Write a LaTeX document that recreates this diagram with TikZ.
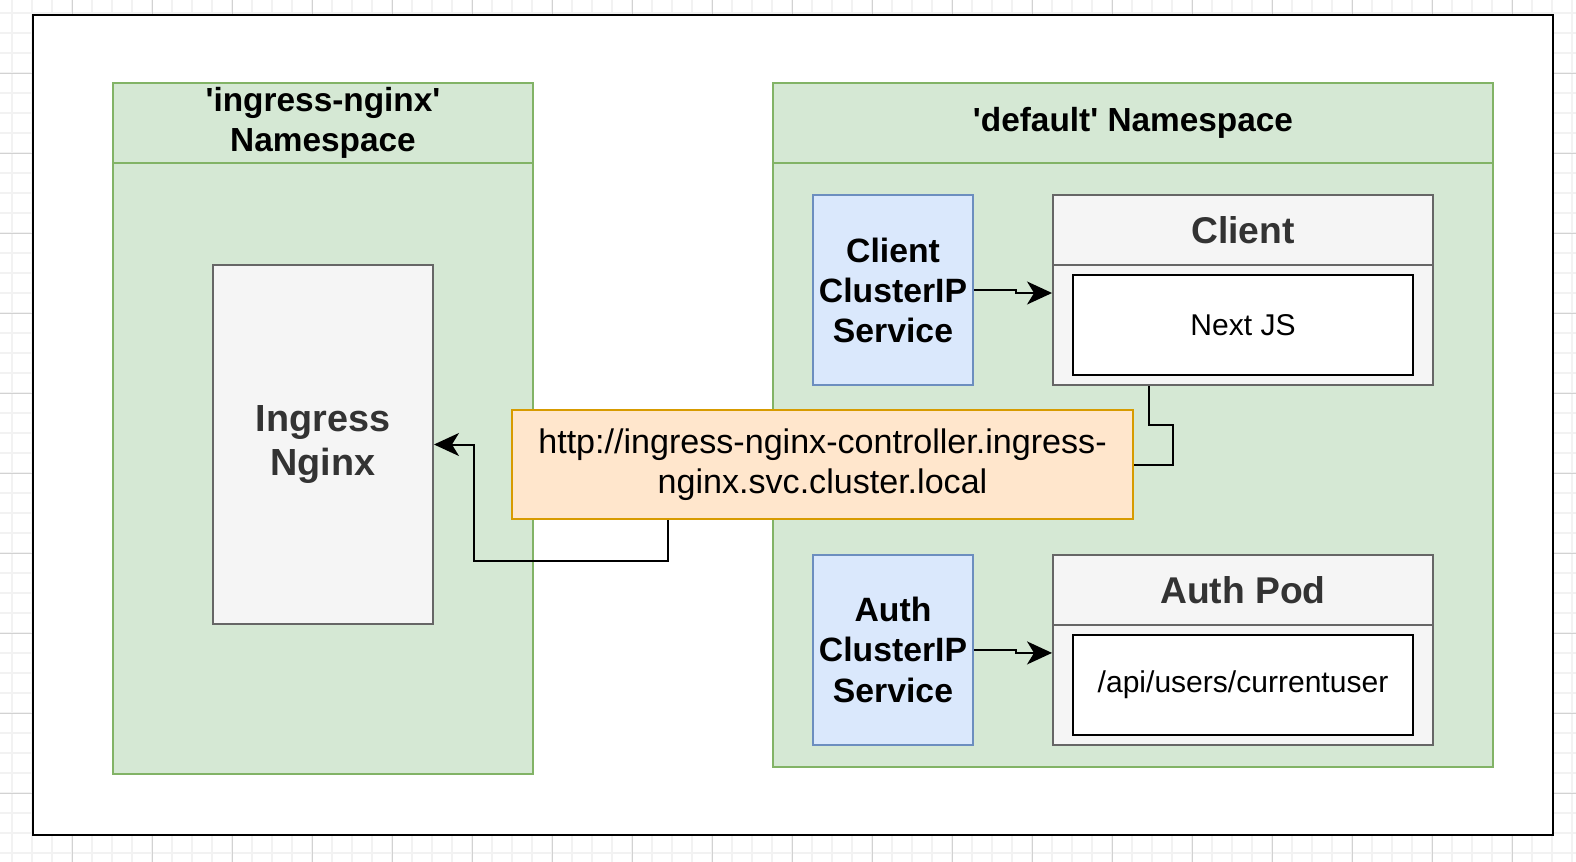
\documentclass[tikz,border=0pt]{standalone}
\usepackage{fontspec}
\setmainfont{Liberation Sans}
\usetikzlibrary{arrows.meta, positioning, calc}

\definecolor{nsgreen}{HTML}{D5E8D4}
\definecolor{nsgreenline}{HTML}{82B366}
\definecolor{svcblue}{HTML}{DAE8FC}
\definecolor{svcblueline}{HTML}{6C8EBF}
\definecolor{podgray}{HTML}{F5F5F5}
\definecolor{podgrayline}{HTML}{666666}
\definecolor{podtext}{HTML}{333333}
\definecolor{urlorange}{HTML}{FFE6CC}
\definecolor{urlorangeline}{HTML}{D79B00}

\begin{document}
\begin{tikzpicture}[
    x=0.02cm, y=-0.02cm,
    gridminor/.style={draw=gray!10, line width=0.04cm},
    gridmajor/.style={draw=gray!35, line width=0.02cm},
    ns/.style={draw=nsgreenline, fill=nsgreen, line width=0.04cm, inner sep=0pt},
    nshead/.style={ns, minimum height=1.6cm, align=center, font=\fontsize{19}{22.8}\selectfont\bfseries},
    gateway/.style={draw=podgrayline, fill=podgray, line width=0.04cm, minimum width=4.4cm, minimum height=7.18cm, inner sep=0pt, align=center, text=podtext, font=\fontsize{21.5}{25.6}\selectfont\bfseries},
    svc/.style={draw=svcblueline, fill=svcblue, line width=0.04cm, minimum width=3.2cm, minimum height=3.8cm, inner sep=0pt, align=center, font=\fontsize{19.2}{22.8}\selectfont\bfseries},
    pod/.style={draw=podgrayline, fill=podgray, line width=0.04cm, minimum width=7.6cm, minimum height=3.8cm, inner sep=0pt},
    podhead/.style={pod, minimum height=1.4cm, text=podtext, font=\fontsize{21.2}{25}\selectfont\bfseries},
    app/.style={draw=black, fill=white, line width=0.04cm, minimum width=6.8cm, minimum height=2cm, inner sep=0pt, font=\fontsize{17.1}{20}\selectfont},
    url/.style={draw=urlorangeline, fill=urlorange, line width=0.04cm, minimum width=12.42cm, minimum height=2.18cm, inner sep=0pt, align=center, font=\fontsize{19.4}{23}\selectfont},
    wire/.style={draw, line width=0.04cm},
    link/.style={wire, -{Stealth[length=0.5cm, width=0.46cm, inset=0.14cm]}}
]
    \useasboundingbox (0,0) rectangle (1576,862);

    % Canvas grid
    \foreach \gx in {12,32,...,1572} \draw[gridminor] (\gx,0) -- (\gx,862);
    \foreach \gy in {13,33,...,853} \draw[gridminor] (0,\gy) -- (1576,\gy);
    \foreach \gx in {72,152,...,1512} \draw[gridmajor] (\gx,0) -- (\gx,862);
    \foreach \gy in {73,153,...,793} \draw[gridmajor] (0,\gy) -- (1576,\gy);

    % Cluster frame
    \draw[line width=0.054cm, fill=white] (33,15) rectangle (1553,835);

    % Namespaces
    \node[ns, minimum width=8.4cm, minimum height=13.82cm] (ingressns) at (323,428.5) {};
    \node[nshead, minimum width=8.4cm, anchor=north] (ingresshead) at (ingressns.north) {\textquotesingle ingress-nginx\textquotesingle\\Namespace};
    \node[ns, minimum width=14.4cm, minimum height=13.68cm] (defaultns) at (1133,425) {};
    \node[nshead, minimum width=14.4cm, anchor=north] (defaulthead) at (defaultns.north) {\textquotesingle default\textquotesingle{} Namespace};

    \node[gateway] (ingress) at (323,444.5) {Ingress\\Nginx};

    % Services and pods
    \node[svc] (clientsvc) at (893,290) {Client\\ClusterIP\\Service};
    \node[pod] (clientpod) at (1243,290) {};
    \node[podhead, anchor=north] (clienthead) at (clientpod.north) {Client};
    \node[app, below=0.16cm of clienthead] (nextjs) {Next JS};

    \node[svc, below=3.36cm of clientsvc] (authsvc) {Auth\\ClusterIP\\Service};
    \node[pod, below=3.36cm of clientpod] (authpod) {};
    \node[podhead, anchor=north] (authhead) at (authpod.north) {Auth Pod};
    \node[app, below=0.16cm of authhead] (currentuser) {/api/users/currentuser};

    \node[url] (url) at (822.5,464.5) {http://ingress-nginx-controller.ingress-\\nginx.svc.cluster.local};

    % Connectors
    \draw[link] (clientsvc.east) -- ++(42,0) |- ([yshift=-0.06cm]clientpod.west);
    \draw[link] (authsvc.east) -- ++(42,0) |- ([yshift=-0.06cm]authpod.west);
    \draw[wire] ([xshift=-1.88cm]clientpod.south) |- ++(24,39) |- (url.east);
    \draw[link] ([xshift=-3.09cm]url.south) -- ++(0,41) -| ([xshift=0.8cm]ingress.east) -- (ingress.east);
\end{tikzpicture}
\end{document}
